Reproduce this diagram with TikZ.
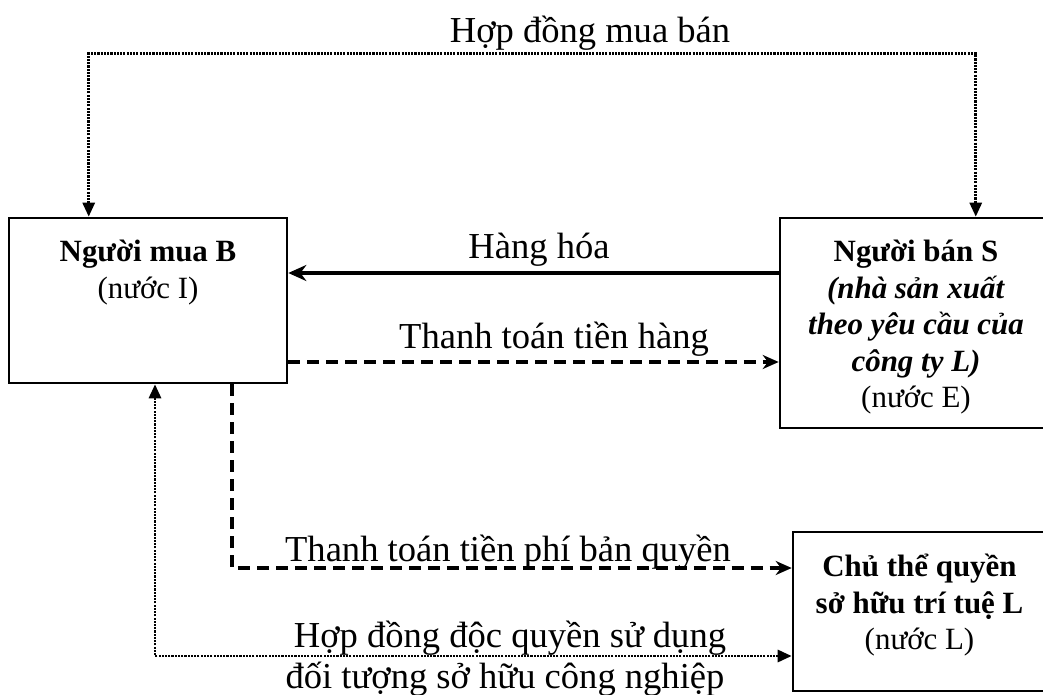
\documentclass[tikz,border=0pt]{standalone}
\usepackage{fontspec}
\setmainfont{Liberation Serif}
\usetikzlibrary{arrows.meta, positioning}

\begin{document}
\begin{tikzpicture}[x=0.025cm, y=-0.025cm,
        box/.style={rectangle, draw, line width=1.8pt, inner sep=0pt},
        boxtext/.style={font=\fontsize{22}{26}\selectfont, align=center, inner sep=0pt},
        lbl/.style={font=\fontsize{26}{30}\selectfont, inner sep=0pt, anchor=base},
        goods/.style={-{Stealth[length=4.5mm, width=4mm]}, line width=3.2pt},
        payarrow/.style={-{Stealth[length=4mm, width=3.5mm]}, line width=2.6pt, dash pattern=on 8.5pt off 5pt},
        dotline/.style={>={Triangle[length=3.5mm, width=3mm]}, line width=2pt, dash pattern=on 1.5pt off 0.8pt}
    ]
        \clip (0,0) rectangle (1043,695);

        % Boxes
        \node[box, minimum width=6.95cm, minimum height=4.125cm] (buyer) at (148,300.5) {};
        \node[boxtext, below=0.575cm of buyer.north] (buyertxt) {\textbf{Người mua B}\\(nước I)};
        \node[box, minimum width=6.8cm, minimum height=5.25cm] (seller) at (916,323) {};
        \node[boxtext, below=0.575cm of seller.north] (sellertxt)
            {\textbf{Người bán S}\\\textbf{\textit{(nhà sản xuất}}\\\textbf{\textit{theo yêu cầu của}}\\\textbf{\textit{công ty L)}}\\(nước E)};
        \node[box, minimum width=6.325cm, minimum height=3.975cm] (licensor) at (919.5,611.5) {};
        \node[boxtext, below=0.575cm of licensor.north] (licensortxt)
            {\textbf{Chủ thể quyền}\\\textbf{sở hữu trí tuệ L}\\(nước L)};

        % Sales contract
        \draw[dotline, <->] ([xshift=2.025cm]buyer.north west) -- ++(0,-163) -| ([xshift=4.925cm]seller.north west);
        \node[lbl] (contractlbl) at (590,43) {Hợp đồng mua bán};

        % Goods and payment
        \draw[goods] (seller.west |- {0,273}) -- (buyer.east |- {0,273});
        \node[lbl] (goodslbl) at (539,259) {Hàng hóa};
        \draw[payarrow] (buyer.east |- {0,362}) -- (seller.west |- {0,362});
        \node[lbl] (paylbl) at (554,348) {Thanh toán tiền hàng};

        % Royalty and licence
        \draw[payarrow] ([xshift=2.1cm]buyer.south) |- (licensor.west |- {0,568});
        \node[lbl] (royaltylbl) at (508,561) {Thanh toán tiền phí bản quyền};
        \draw[dotline, <->] (licensor.west |- {0,656}) -| ([xshift=0.175cm]buyer.south);
        \node[lbl] (licencelbl) at (510,647) {Hợp đồng độc quyền sử dụng};
        \node[lbl] (objectlbl) at (505,688) {đối tượng sở hữu công nghiệp};
    \end{tikzpicture}
\end{document}
